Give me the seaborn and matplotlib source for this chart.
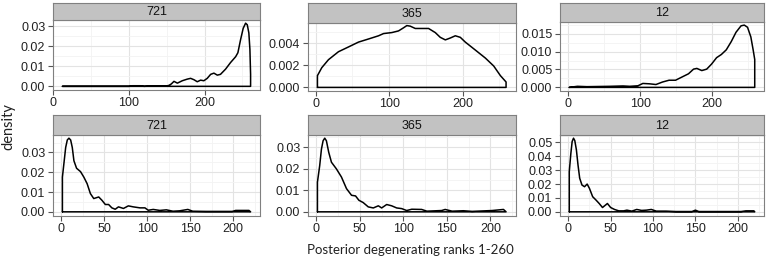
import matplotlib
matplotlib.use("Agg")
import matplotlib.pyplot as plt
import seaborn as sns
import numpy as np
import pandas as pd
from matplotlib.ticker import FixedLocator

# Data
panel_titles = ["721", "365", "12", "721", "365", "12"]

top721_x = [12, 30, 60, 100, 105, 110, 115, 120, 130, 140, 150, 153, 156, 159.5, 164, 170.5, 177, 181.5, 186,
            190.3, 194.7, 199, 203.5, 208, 212.3, 216.8, 221, 227.7, 234.3, 241, 244, 247.6, 251, 254.2,
            256.4, 258.5, 259.9, 260.8, 260.8]
top721_y = [0, 0, 0, 0, 0.0003, 0.0003, 0.0003, 0, 0.0002, 0.0002, 0.0002, 0.0005, 0.0012, 0.0025, 0.0016,
            0.0028, 0.0036, 0.004, 0.0033, 0.0023, 0.0031, 0.0028, 0.004, 0.006, 0.0066, 0.0056, 0.006,
            0.0086, 0.0119, 0.0148, 0.0168, 0.0234, 0.029, 0.0316, 0.0308, 0.0267, 0.0185, 0.006, 0]

top365_x = [2.3, 2.3, 8.2, 17.3, 30.9, 44.5, 58.2, 71.8, 85.5, 92.3, 103.6, 112.7, 119.5, 124, 128.6, 135.5,
            144.5, 153.6, 162.7, 169.5, 176.4, 183.2, 190, 196.8, 203.6, 217.3, 230.9, 242.3, 251.4,
            259.1, 259.1]
top365_y = [0, 0.00106, 0.00178, 0.0025, 0.00322, 0.00365, 0.00409, 0.00437, 0.00466, 0.00486, 0.00495,
            0.0051, 0.00538, 0.00558, 0.00553, 0.00532, 0.00532, 0.00532, 0.00495, 0.00452, 0.00429,
            0.00446, 0.00466, 0.00452, 0.00409, 0.00337, 0.00265, 0.00193, 0.00106, 0.00049, 0]

top12_x = [1.4, 12.7, 26, 58, 76, 85.5, 96.8, 103.6, 112.7, 121.8, 130.9, 140, 149, 158, 167, 174, 178.6,
           185.5, 192.3, 199, 206, 212.7, 219.5, 226.4, 233, 240, 244.5, 249, 253.6, 256.8, 259, 259]
top12_y = [0, 0.0003, 0.0002, 0.0003, 0.0004, 0.0003, 0.00045, 0.0011, 0.001, 0.0008, 0.0015, 0.002, 0.002,
           0.0029, 0.0038, 0.0051, 0.0053, 0.0047, 0.0051, 0.0065, 0.0083, 0.0092, 0.0105, 0.0128, 0.0154,
           0.0172, 0.0174, 0.0168, 0.0141, 0.0105, 0.0078, 0]

bot721_x = [1.2, 1.2, 3.1, 5, 6.9, 8.8, 10.8, 12.7, 14.6, 17.7, 22.3, 26.2, 30, 33.8, 37.7, 43.5, 47.3, 51.2,
            55, 58.8, 62.7, 66.5, 72.3, 78, 83.8, 91.5, 97.3, 101.2, 107, 114.6, 122.3, 130, 137.7, 147.3,
            153, 168.5, 199, 203, 218.5, 220.4]
bot721_y = [0, 0.0175, 0.025, 0.0325, 0.0363, 0.0372, 0.0363, 0.0325, 0.0258, 0.022, 0.0203, 0.0175, 0.0142,
            0.0092, 0.0067, 0.0075, 0.0058, 0.0037, 0.0037, 0.002, 0.0013, 0.0025, 0.0017, 0.003, 0.0025,
            0.002, 0.002, 0.0008, 0.0012, 0.0007, 0.001, 0.0003, 0.0005, 0.0012, 0.0003, 0.0002, 0.0002,
            0.0007, 0.0007, 0]

bot365_x = [1.2, 1.2, 3.8, 5.8, 7.7, 9.6, 11.5, 14.2, 17.3, 23, 28.8, 34.6, 40.4, 45, 48.8, 53.8, 59.6, 65.4,
            71.2, 75, 80.8, 86.5, 92.3, 98, 103.8, 109.6, 121, 127, 144, 148, 156, 169, 179, 202, 215, 218]
bot365_y = [0, 0.0138, 0.0215, 0.0292, 0.0331, 0.0343, 0.0331, 0.0277, 0.0231, 0.02, 0.0162, 0.0108, 0.0077,
            0.0074, 0.0054, 0.0043, 0.0023, 0.0018, 0.0028, 0.0018, 0.0034, 0.0028, 0.0018, 0.0015, 0.0006,
            0.0012, 0.0011, 0.0003, 0.0006, 0.0011, 0.0003, 0.0005, 0.0002, 0.0006, 0.0011, 0]

bot12_x = [1.2, 1.2, 3.1, 4.6, 6.2, 7.7, 9.6, 11.5, 13.5, 16.2, 19.2, 22.3, 25, 28.8, 32.7, 36.5, 40.4, 46.2,
           50, 54.6, 59.6, 65.4, 69.2, 75, 80.8, 86.5, 92.3, 98, 103.8, 115.4, 127, 146, 150, 154, 204,
           209.6, 219, 220]
bot12_y = [0, 0.029, 0.0423, 0.0507, 0.0531, 0.0514, 0.0447, 0.0338, 0.0242, 0.0193, 0.0181, 0.02, 0.0169,
           0.0109, 0.0085, 0.006, 0.0031, 0.006, 0.0031, 0.0017, 0.0007, 0.0007, 0.0012, 0.0005, 0.0017,
           0.001, 0.0012, 0.0017, 0.0005, 0.0005, 0.0002, 0.0002, 0.0012, 0.0002, 0.0002, 0.0007, 0.0007, 0]

xs_all = [top721_x, top365_x, top12_x, bot721_x, bot365_x, bot12_x]
ys_all = [top721_y, top365_y, top12_y, bot721_y, bot365_y, bot12_y]

y_majors = [[0, 0.01, 0.02, 0.03], [0, 0.002, 0.004], [0, 0.005, 0.010, 0.015],
            [0, 0.01, 0.02, 0.03], [0, 0.01, 0.02, 0.03], [0, 0.01, 0.02, 0.03, 0.04, 0.05]]
y_fmt = ["%.2f", "%.3f", "%.3f", "%.2f", "%.2f", "%.2f"]
x_majors_top = [0, 100, 200]
x_majors_bot = [0, 50, 100, 150, 200]

# layout in pixels: (left, right, strip_top, plot_top, plot_bottom)
W, H = 768, 267
boxes = [(53, 260, 3, 20, 89.5), (308, 515.5, 3, 22.5, 90.5), (560, 764, 3, 22, 90.5),
         (53, 260, 115, 134.5, 215.5), (308, 515.5, 115, 134.5, 215.5), (560, 764, 115, 134.5, 215.5)]

sns.set_style("white")
plt.rcParams['font.family'] = ['Liberation Sans', 'DejaVu Sans']
plt.rcParams['font.sans-serif'] = ['Liberation Sans', 'DejaVu Sans']

fig = plt.figure(figsize=(W / 100, H / 100), dpi=100)

for i in range(6):
    l, r, st, pt, pb = boxes[i]
    ax = fig.add_axes([l / W, 1 - pb / H, (r - l) / W, (pb - pt) / H])
    sax = fig.add_axes([l / W, 1 - pt / H, (r - l) / W, (pt - st) / H])

    x = xs_all[i] + [xs_all[i][0]]
    y = ys_all[i] + [0]
    df = pd.DataFrame({"x": x, "y": y})
    sns.lineplot(data=df, x="x", y="y", sort=False, estimator=None, color="black",
                 linewidth=1.1, ax=ax)

    # ggplot-like expansion
    x0, x1 = min(xs_all[i]), max(xs_all[i])
    ex = (x1 - x0) * 0.05
    ax.set_xlim(x0 - ex, x1 + ex)
    ym = max(ys_all[i])
    ax.set_ylim(-ym * 0.05, ym * 1.05)

    xm = x_majors_top if i < 3 else x_majors_bot
    step = xm[1] - xm[0]
    ax.xaxis.set_major_locator(FixedLocator(xm))
    ax.xaxis.set_minor_locator(FixedLocator([v + step / 2 for v in [xm[0] - step] + xm]))
    ym_t = y_majors[i]
    ystep = ym_t[1] - ym_t[0]
    ax.yaxis.set_major_locator(FixedLocator(ym_t))
    ax.yaxis.set_minor_locator(FixedLocator([v + ystep / 2 for v in [ym_t[0] - ystep] + ym_t]))
    ax.set_xticklabels([str(v) for v in xm], family='Liberation Sans')
    ax.set_yticklabels([y_fmt[i] % v for v in ym_t], family='Liberation Sans')

    ax.grid(True, which="major", color="#e3e3e3", linewidth=0.8)
    ax.grid(True, which="minor", color="#f3f3f3", linewidth=0.6)
    ax.set_axisbelow(True)
    ax.tick_params(which="major", length=3.5, width=0.8, color="#555555", labelsize=9,
                   labelcolor="#222222", pad=2, bottom=True, left=True)
    ax.tick_params(which="minor", length=0)
    for s in ax.spines.values():
        s.set_color("#808080")
        s.set_linewidth(0.8)
    ax.set_xlabel("")
    ax.set_ylabel("")

    sax.set_facecolor("#c2c2c2")
    sax.set_xticks([])
    sax.set_yticks([])
    for s in sax.spines.values():
        s.set_color("#808080")
        s.set_linewidth(0.8)
    sax.text(0.5, 0.45, panel_titles[i], transform=sax.transAxes, ha="center", va="center",
             fontsize=9, family='Liberation Sans', color="#111111")

fig.text(8 / W, 1 - 127 / H, "density", rotation=90, ha="center", va="center", fontsize=10.5,
         family=['Lato', 'DejaVu Sans'], color="#222222")
fig.text(410 / W, 1 - 250 / H, "Posterior degenerating ranks 1-260", ha="center", va="center",
         fontsize=9.5, family=['Lato', 'DejaVu Sans'], color="#222222")

fig.savefig("out.png", dpi=100)
